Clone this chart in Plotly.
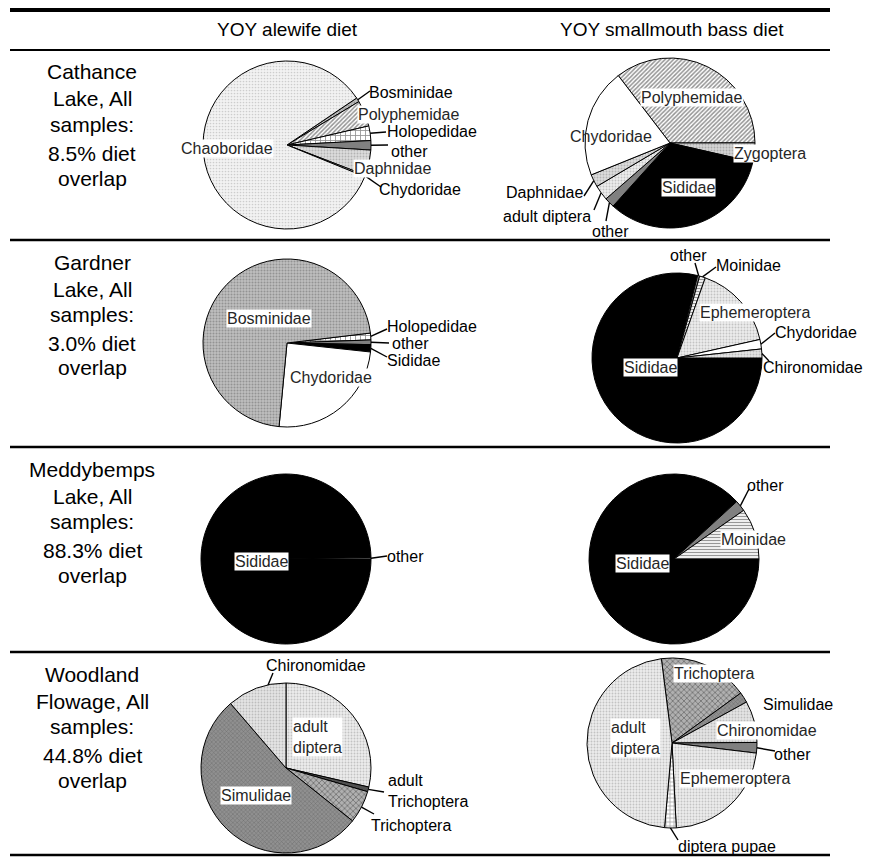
import math
import plotly.graph_objects as go

# ---------------- data ----------------
column_titles = ["YOY alewife diet", "YOY smallmouth bass diet"]

row_titles = [
    ["Cathance", "Lake, All", "samples:", "8.5% diet", "overlap"],
    ["Gardner", "Lake, All", "samples:", "3.0% diet", "overlap"],
    ["Meddybemps", "Lake, All", "samples:", "88.3% diet", "overlap"],
    ["Woodland", "Flowage, All", "samples:", "44.8% diet", "overlap"],
]

cathance_alewife_labels = ["Bosminidae", "Polyphemidae", "Holopedidae", "other", "Daphnidae", "Chydoridae", "Chaoboridae"]
cathance_alewife_values = [0.8, 5.0, 2.8, 1.8, 4.9, 0.3, 84.4]

cathance_bass_labels = ["Polyphemidae", "Zygoptera", "Sididae", "other", "adult diptera", "Daphnidae", "Chydoridae"]
cathance_bass_values = [35.4, 3.6, 33.1, 1.9, 2.9, 2.4, 20.7]

gardner_alewife_labels = ["Holopedidae", "other", "Sididae", "Chydoridae", "Bosminidae"]
gardner_alewife_values = [1.3, 0.9, 1.4, 24.8, 71.6]

gardner_bass_labels = ["Sididae", "other", "Moinidae", "Ephemeroptera", "Chydoridae", "Chironomidae"]
gardner_bass_values = [78.9, 0.4, 1.1, 16.1, 1.8, 1.7]

meddybemps_alewife_labels = ["Sididae", "other"]
meddybemps_alewife_values = [99.7, 0.3]

meddybemps_bass_labels = ["Sididae", "other", "Moinidae"]
meddybemps_bass_values = [88.2, 2.1, 9.7]

woodland_alewife_labels = ["adult diptera", "adult Trichoptera", "Trichoptera", "Simulidae", "Chironomidae"]
woodland_alewife_values = [28.6, 0.9, 6.2, 53.0, 11.3]

woodland_bass_labels = ["Trichoptera", "Simulidae", "Chironomidae", "other", "Ephemeroptera", "diptera pupae", "adult diptera"]
woodland_bass_values = [17.0, 2.0, 7.9, 2.0, 22.3, 2.2, 46.6]

# ---------------- styling ----------------
OFF = 8                      # page body margin of the html page
W, H = 872 - OFF, 859 - OFF  # figure size so the page fits the window
FONT = "Liberation Sans, Arial, sans-serif"

def px(x):
    return (x - OFF) / W

def py(y):
    return 1 - (y - OFF) / H

# fill style per prey category: (background, pattern shape, pattern colour, size, solidity)
STYLE = {
    "Chaoboridae": ("#f2f2f2", ".", "#a8a8a8", 3, 0.25),
    "Bosminidae": ("#bdbdbd", ".", "#6a6a6a", 3, 0.35),
    "Polyphemidae": ("#ffffff", "/", "#282828", 3, 0.5),
    "Holopedidae": ("#ffffff", "+", "#202020", 5, 0.3),
    "other": ("#808080", "", "#808080", 4, 0.3),
    "Daphnidae": ("#dcdcdc", ".", "#8a8a8a", 3, 0.3),
    "Chydoridae": ("#ffffff", "", "#ffffff", 4, 0.3),
    "Zygoptera": ("#d4d4d4", ".", "#808080", 3, 0.3),
    "Sididae": ("#000000", "", "#000000", 4, 0.3),
    "adult diptera": ("#ececec", ".", "#9a9a9a", 3, 0.3),
    "Moinidae": ("#ffffff", "-", "#303030", 3, 0.45),
    "Ephemeroptera": ("#ececec", ".", "#9a9a9a", 3, 0.3),
    "Chironomidae": ("#e4e4e4", ".", "#959595", 3, 0.3),
    "Simulidae": ("#909090", "x", "#4a4a4a", 3, 0.3),
    "Trichoptera": ("#b0b0b0", "x", "#2a2a2a", 4, 0.35),
    "adult Trichoptera": ("#505050", "", "#505050", 4, 0.3),
    "diptera pupae": ("#ffffff", "+", "#303030", 4, 0.3),
}

fig = go.Figure()
shapes = []
annotations = []


def slice_point(values, rotation, idx, cx, cy, r, frac=0.5):
    total = float(sum(values))
    a = math.radians(rotation + 360.0 * (sum(values[:idx]) + frac * values[idx]) / total)
    return cx + r * math.sin(a), cy - r * math.cos(a)


def add_pie(labels, values, cx, cy, r, rotation, placements):
    st = [STYLE[l] for l in labels]
    fig.add_trace(go.Pie(
        labels=labels, values=values, sort=False, direction="clockwise",
        rotation=rotation, textinfo="none", hoverinfo="label+percent",
        showlegend=False,
        domain=dict(x=[px(cx - r), px(cx + r)], y=[py(cy + r), py(cy - r)]),
        marker=dict(
            colors=[s[0] for s in st],
            line=dict(color="black", width=1),
            pattern=dict(
                shape=[s[1] for s in st],
                fgcolor=[s[2] for s in st],
                size=[s[3] for s in st],
                solidity=[s[4] for s in st],
                fillmode="overlay",
            ),
        ),
    ))
    for p in placements:
        idx = labels.index(p["label"])
        text = labels[idx]
        if p.get("wrap"):
            text = text.replace(" ", "<br>", 1)
        inside = p.get("inside", False)
        ann = dict(
            x=px(p["x"]), y=py(p["y"]), xref="paper", yref="paper",
            text=text, showarrow=False,
            xanchor=p.get("xanchor", "center"), yanchor="middle",
            align=p.get("align", "center"),
            font=dict(family=FONT, size=16, color="#262626" if inside else "#000000"),
            borderpad=0,
        )
        if p.get("bg", inside):
            ann["bgcolor"] = "white"
        annotations.append(ann)
        if "lead" in p:
            ex, ey = slice_point(values, rotation, idx, cx, cy, r, p.get("frac", 0.5))
            lx, ly = p["lead"]
            shapes.append(dict(type="line", xref="paper", yref="paper",
                               x0=px(ex), y0=py(ey), x1=px(lx), y1=py(ly),
                               line=dict(color="black", width=1.4)))


# Row 1: Cathance
add_pie(cathance_alewife_labels, cathance_alewife_values, 287, 145, 84, 56, [
    dict(label="Chaoboridae", x=227, y=148, inside=True),
    dict(label="Bosminidae", x=411, y=92, lead=(370, 91)),
    dict(label="Polyphemidae", x=409, y=114, inside=True),
    dict(label="Daphnidae", x=393, y=168, inside=True),
    dict(label="Holopedidae", x=432, y=132, lead=(386, 132)),
    dict(label="other", x=409, y=151, lead=(388, 145)),
    dict(label="Chydoridae", x=420, y=189, lead=(381, 187)),
])
add_pie(cathance_bass_labels, cathance_bass_values, 670, 143, 85, -37.5, [
    dict(label="Polyphemidae", x=692, y=97, inside=True),
    dict(label="Chydoridae", x=611, y=137, inside=True, bg=False),
    dict(label="Zygoptera", x=770, y=153, inside=True),
    dict(label="Sididae", x=688, y=188, inside=True),
    dict(label="Daphnidae", x=545, y=193, lead=(584, 196)),
    dict(label="adult diptera", x=547, y=216, lead=(594, 210)),
    dict(label="other", x=610, y=231, lead=(606, 221)),
])

# Row 2: Gardner
add_pie(gardner_alewife_labels, gardner_alewife_values, 287, 343, 84, 83.2, [
    dict(label="Bosminidae", x=269, y=318, inside=True),
    dict(label="Holopedidae", x=432, y=326, lead=(387, 329)),
    dict(label="other", x=410, y=344, lead=(389, 343)),
    dict(label="Sididae", x=413, y=360, lead=(387, 357)),
    dict(label="Chydoridae", x=331, y=378, inside=True),
])
add_pie(gardner_bass_labels, gardner_bass_values, 677, 358, 85, 90, [
    dict(label="Sididae", x=650, y=367, inside=True),
    dict(label="other", x=688, y=256, lead=(695, 263)),
    dict(label="Moinidae", x=748, y=265, lead=(716, 267)),
    dict(label="Ephemeroptera", x=755, y=312, inside=True),
    dict(label="Chydoridae", x=816, y=332, lead=(775, 333)),
    dict(label="Chironomidae", x=813, y=368, lead=(769, 361)),
])

# Row 3: Meddybemps
add_pie(meddybemps_alewife_labels, meddybemps_alewife_values, 286, 559, 85, 90, [
    dict(label="Sididae", x=261, y=561, inside=True),
    dict(label="other", x=405, y=556, lead=(387, 556)),
])
add_pie(meddybemps_bass_labels, meddybemps_bass_values, 674, 559, 85, 90, [
    dict(label="Sididae", x=642, y=563, inside=True),
    dict(label="other", x=765, y=485, lead=(749, 489)),
    dict(label="Moinidae", x=753, y=539, inside=True),
])

# Row 4: Woodland Flowage
add_pie(woodland_alewife_labels, woodland_alewife_values, 286, 768, 85, 0, [
    dict(label="adult diptera", x=292, y=737, inside=True, wrap=True, xanchor="left", align="left"),
    dict(label="adult Trichoptera", x=387, y=791, wrap=True, xanchor="left", align="left", lead=(384, 792)),
    dict(label="Trichoptera", x=411, y=825, lead=(374, 814)),
    dict(label="Simulidae", x=256, y=795, inside=True),
    dict(label="Chironomidae", x=316, y=665, lead=(273, 673), frac=0.7),
])
add_pie(woodland_bass_labels, woodland_bass_values, 672, 743, 85, -7.2, [
    dict(label="Trichoptera", x=714, y=673, inside=True),
    dict(label="Simulidae", x=798, y=704),
    dict(label="Chironomidae", x=767, y=730, inside=True),
    dict(label="other", x=792, y=754, lead=(775, 751)),
    dict(label="Ephemeroptera", x=735, y=778, inside=True),
    dict(label="diptera pupae", x=727, y=846, lead=(678, 840)),
    dict(label="adult diptera", x=610, y=738, inside=True, wrap=True, xanchor="left", align="left"),
])

# column headers
for t, x in zip(column_titles, [287, 672]):
    annotations.append(dict(x=px(x), y=py(30), xref="paper", yref="paper", text=t,
                            showarrow=False, xanchor="center", yanchor="middle",
                            font=dict(family=FONT, size=19, color="black")))

# row titles
row_tops = [50, 240, 447, 652]
offsets = [22, 49, 74, 103, 128]
for top, lines in zip(row_tops, row_titles):
    for off, line in zip(offsets, lines):
        annotations.append(dict(x=px(92), y=py(top + off), xref="paper", yref="paper",
                                text=line, showarrow=False, xanchor="center", yanchor="middle",
                                font=dict(family=FONT, size=21, color="black")))

# table rules
for y, w in [(10, 4), (50, 2), (240, 2.5), (447, 2.5), (652, 2.5), (855, 2.5)]:
    shapes.append(dict(type="line", xref="paper", yref="paper",
                       x0=px(10), x1=px(830), y0=py(y), y1=py(y),
                       line=dict(color="black", width=w)))

fig.update_layout(
    width=W, height=H, margin=dict(l=0, r=0, t=0, b=0),
    paper_bgcolor="white", plot_bgcolor="white",
    shapes=shapes, annotations=annotations,
    font=dict(family=FONT),
)

fig.write_html("out.html")
